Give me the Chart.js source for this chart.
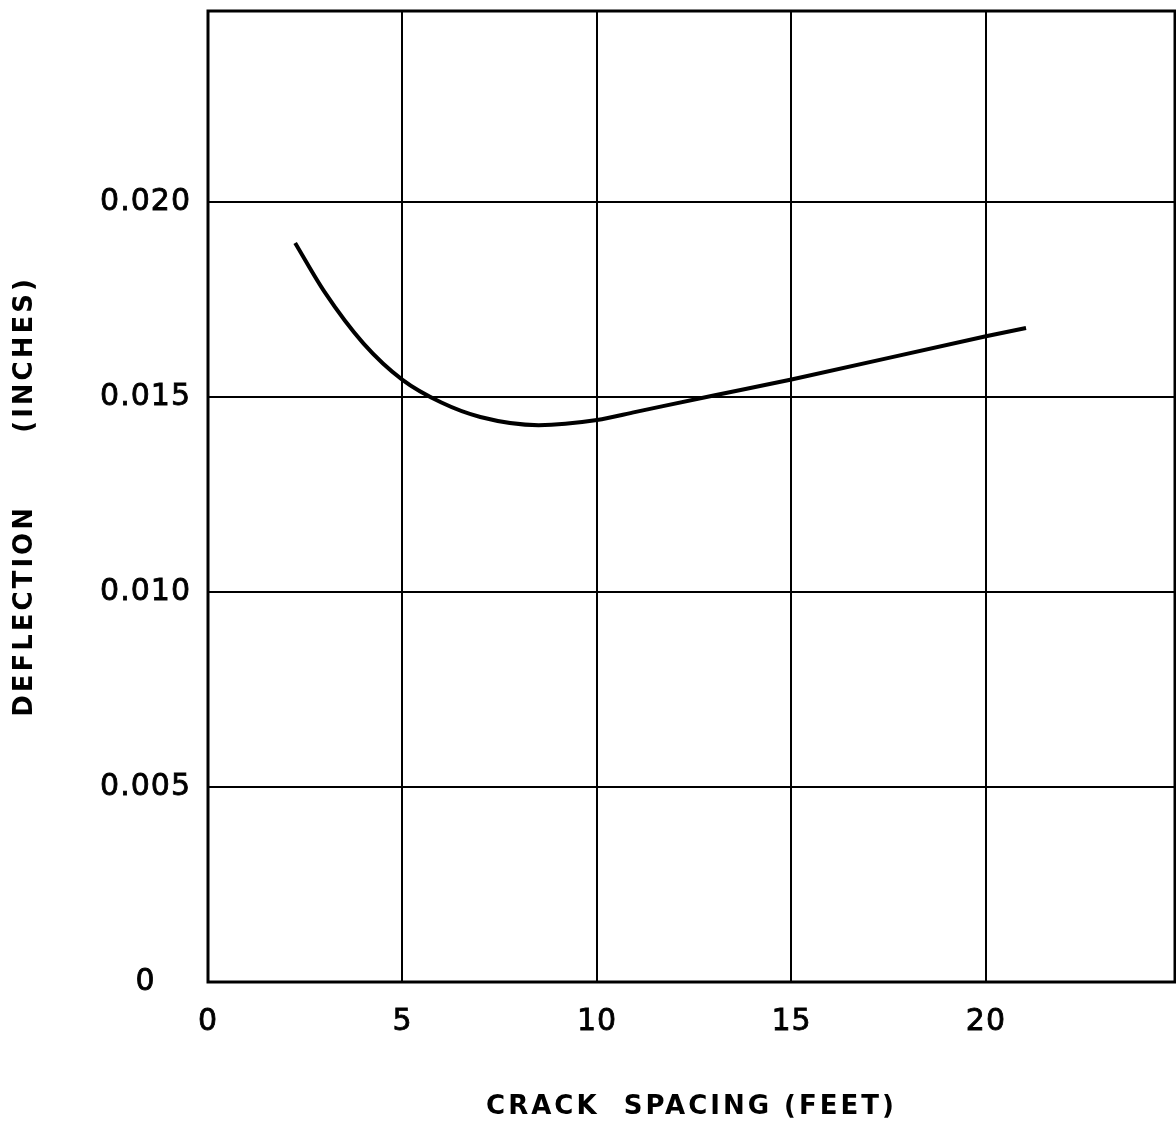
<!DOCTYPE html>
<html>
<head>
<meta charset="utf-8">
<script src="https://cdn.jsdelivr.net/npm/chart.js@4"></script>
<style>
  html, body { margin: 0; padding: 0; background: #fff; }
  #wrap { width: 1176px; height: 1125px; position: relative; }
</style>
</head>
<body>
<div id="wrap"><canvas id="chart"></canvas></div>
<script>
// valeurs
const crackSpacing = [2.24, 3.0, 4.0, 5.0, 6.0, 7.0, 8.5, 10.0, 11.0, 13.0, 15.0, 20.0, 21.03];
const deflection = [0.01895, 0.01769, 0.01637, 0.01544, 0.01486, 0.01449, 0.01428, 0.01441, 0.01462, 0.01504, 0.01545, 0.01656, 0.01677];

const xTicks = [0, 5, 10, 15, 20];
const yTicks = [0, 0.005, 0.010, 0.015, 0.020];

const font = "'DejaVu Sans', sans-serif";

// espacement des lettres : titres (dessinés avec la grille) puis graduations
const spacing = {
    id: 'spacing',
    beforeLayout(chart) { chart.ctx.letterSpacing = '1px'; },
    beforeDraw(chart) { chart.ctx.letterSpacing = '3px'; },
    afterDatasetsDraw(chart) { chart.ctx.letterSpacing = '1px'; }
};

// cadre du graphique
const frame = {
    id: 'frame',
    afterDatasetsDraw(chart) {
        const {ctx, chartArea: a} = chart;
        ctx.save();
        ctx.strokeStyle = '#000';
        ctx.lineWidth = 3;
        ctx.strokeRect(a.left, a.top, a.right - a.left, a.bottom - a.top);
        ctx.restore();
    }
};

const chart = new Chart(document.getElementById('chart'), {
    type: 'scatter',
    data: {
        datasets: [{
            data: crackSpacing.map((x, i) => ({x: x, y: deflection[i]})),
            showLine: true,
            borderColor: '#000',
            borderWidth: 4,
            pointRadius: 0,
            cubicInterpolationMode: 'monotone'
        }]
    },
    options: {
        responsive: true,
        maintainAspectRatio: false,
        animation: false,
        layout: { padding: { top: 11, right: 1, left: 0, bottom: 0 } },
        plugins: { legend: { display: false }, tooltip: { enabled: false } },
        scales: {
            x: {
                type: 'linear',
                min: 0,
                max: 24.86,
                afterBuildTicks: s => { s.ticks = xTicks.map(v => ({value: v})); },
                afterFit: s => { s.height = 143; s.paddingLeft = 0; s.paddingRight = 0; },
                grid: { color: '#000', lineWidth: 2, drawTicks: false },
                border: { display: false },
                ticks: {
                    z: 1,
                    color: '#000',
                    padding: 22,
                    maxRotation: 0,
                    textStrokeColor: '#000',
                    textStrokeWidth: 0.8,
                    font: { family: font, size: 30 },
                    callback: v => String(v)
                },
                title: {
                    display: true,
                    text: 'CRACK  SPACING (FEET)',
                    color: '#000',
                    font: { family: font, size: 26, weight: 'bold', lineHeight: 1 },
                    padding: { top: 0, bottom: 5 }
                }
            },
            y: {
                type: 'linear',
                min: 0,
                max: 0.0249,
                afterBuildTicks: s => { s.ticks = yTicks.map(v => ({value: v})); },
                afterFit: s => { s.width = 208; s.paddingTop = 0; s.paddingBottom = 0; },
                grid: { color: '#000', lineWidth: 2, drawTicks: false },
                border: { display: false },
                ticks: {
                    z: 1,
                    color: '#000',
                    padding: 17,
                    crossAlign: 'center',
                    textStrokeColor: '#000',
                    textStrokeWidth: 0.8,
                    font: { family: font, size: 30 },
                    callback: v => v === 0 ? '0' : v.toFixed(3)
                },
                title: {
                    display: true,
                    text: 'DEFLECTION      (INCHES)',
                    color: '#000',
                    font: { family: font, size: 26, weight: 'bold', lineHeight: 1 },
                    padding: { top: 12, bottom: 0 }
                }
            }
        }
    },
    plugins: [spacing, frame]
});
</script>
</body>
</html>
